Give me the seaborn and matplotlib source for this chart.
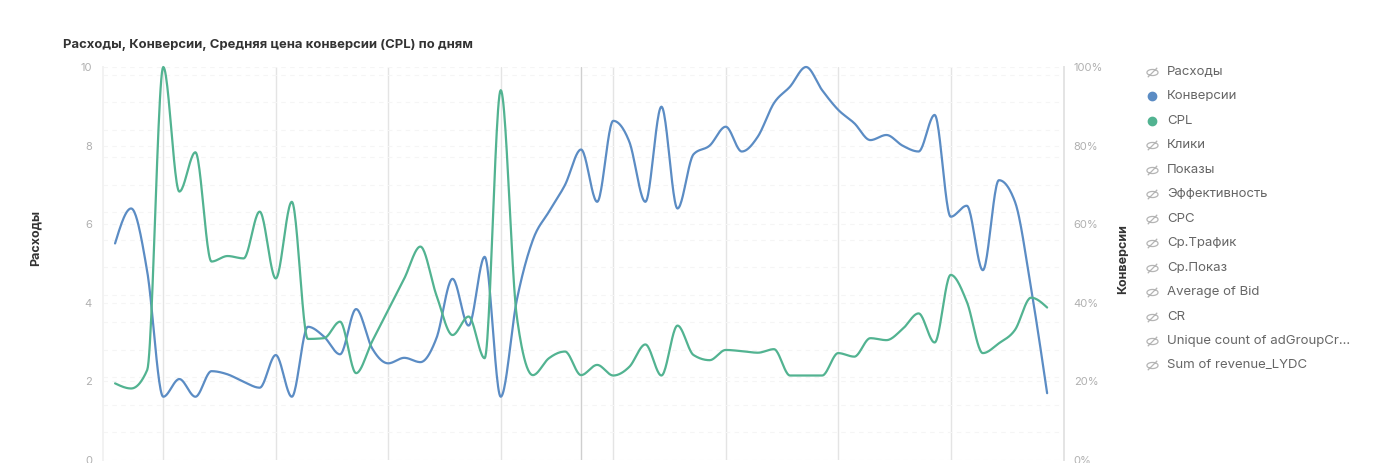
import numpy as np
import pandas as pd
import matplotlib
matplotlib.use("Agg")
import matplotlib.pyplot as plt
import seaborn as sns
from matplotlib.path import Path
from matplotlib.lines import Line2D
from matplotlib.ticker import MultipleLocator, FuncFormatter

# values, one per day
days = list(range(59))
konversii = [5.51, 6.40, 4.80, 1.61, 2.06, 1.61, 2.26, 2.18, 1.99, 1.84,
             2.67, 1.61, 3.39, 3.14, 2.69, 3.84, 2.84, 2.46, 2.60, 2.49,
             3.10, 4.61, 3.42, 5.17, 1.61, 4.07, 5.60, 6.32, 7.00, 7.90,
             6.57, 8.63, 8.10, 6.57, 8.99, 6.40, 7.78, 8.00, 8.48, 7.85,
             8.23, 9.08, 9.50, 10.0, 9.41, 8.91, 8.57, 8.14, 8.27, 8.00,
             7.85, 8.78, 6.19, 6.47, 4.83, 7.12, 6.57, 4.37, 1.70]
cpl = [1.95, 1.82, 2.29, 10.0, 6.83, 7.83, 5.05, 5.19, 5.13, 6.32,
       4.62, 6.57, 3.08, 3.10, 3.52, 2.21, 3.02, 3.82, 4.62, 5.43,
       4.19, 3.18, 3.65, 2.59, 9.41, 3.65, 2.16, 2.59, 2.76, 2.16,
       2.42, 2.15, 2.37, 2.94, 2.15, 3.42, 2.67, 2.54, 2.80, 2.77,
       2.73, 2.82, 2.15, 2.15, 2.15, 2.72, 2.63, 3.10, 3.05, 3.33,
       3.73, 2.99, 4.71, 4.03, 2.72, 2.97, 3.31, 4.13, 3.88]

legend_labels = ["Расходы", "Конверсии", "CPL", "Клики", "Показы",
                 "Эффективность", "CPC", "Ср.Трафик", "Ср.Показ",
                 "Average of Bid", "CR", "Unique count of adGroupCr...",
                 "Sum of revenue_LYDC"]
visible = {"Конверсии": "#5b8cc4", "CPL": "#52b391"}

week_lines = [3, 10, 17, 24, 31, 38, 45, 52]
month_line = 29


def monotone_curve(x, y, steps=24):
    # monotone cubic (Steffen) like the d3 curve used by the dashboard
    x = np.asarray(x, float)
    y = np.asarray(y, float)
    d = np.diff(y) / np.diff(x)
    m = np.zeros_like(y)
    for k in range(1, len(y) - 1):
        s0, s1 = d[k - 1], d[k]
        p = (s0 + s1) / 2
        m[k] = (np.sign(s0) + np.sign(s1)) * min(abs(s0), abs(s1), 0.5 * abs(p))
    m[0] = (3 * d[0] - m[1]) / 2
    m[-1] = (3 * d[-1] - m[-2]) / 2
    xs, ys = [], []
    for k in range(len(y) - 1):
        h = x[k + 1] - x[k]
        t = np.linspace(0, 1, steps, endpoint=False)
        h00 = 2 * t**3 - 3 * t**2 + 1
        h10 = t**3 - 2 * t**2 + t
        h01 = -2 * t**3 + 3 * t**2
        h11 = t**3 - t**2
        xs.append(x[k] + t * h)
        ys.append(h00 * y[k] + h10 * h * m[k] + h01 * y[k + 1] + h11 * h * m[k + 1])
    xs.append([x[-1]])
    ys.append([y[-1]])
    return np.concatenate(xs), np.concatenate(ys)


frames = []
for name, vals in [("Конверсии", konversii), ("CPL", cpl)]:
    xs, ys = monotone_curve(days, vals)
    frames.append(pd.DataFrame({"day": xs, "value": ys, "series": name}))
df = pd.concat(frames, ignore_index=True)

sns.set_theme(style="white")
plt.rcParams["font.family"] = ["Inter", "DejaVu Sans"]

fig = plt.figure(figsize=(14, 4.63), dpi=100)
ax = fig.add_axes([103 / 1400, 3 / 463, 961 / 1400, 393 / 463])

sns.lineplot(data=df, x="day", y="value", hue="series", palette=visible,
             estimator=None, sort=False, linewidth=1.6, legend=False, ax=ax)
for ln in ax.lines:
    ln.set_clip_on(False)

ax.set_xlim(-0.75, 59.05)
ax.set_ylim(0, 10)
ax.set_xticks(week_lines)
ax.set_xticklabels([])
ax.yaxis.set_major_locator(MultipleLocator(2))
ax.yaxis.set_minor_locator(MultipleLocator(0.7))
ax.grid(axis="x", color="#e4e4e4", linewidth=1)
ax.grid(axis="y", which="both", color="#f5f5f5", linewidth=0.8, linestyle=(0, (4, 4)))
ax.axvline(month_line, color="#cfcfcf", linewidth=1, zorder=0)
ax.tick_params(axis="both", which="both", length=0)
ax.tick_params(axis="y", labelsize=8, labelcolor="#b0b0b0", pad=8)
ax.set_xlabel("")
ax.set_ylabel("Расходы", fontsize=9, fontweight="bold", color="#333333")
ax.yaxis.set_label_coords(-0.064, 0.565)

ax2 = ax.twinx()
ax2.set_ylim(0, 100)
ax2.yaxis.set_major_locator(MultipleLocator(20))
ax2.yaxis.set_major_formatter(FuncFormatter(lambda v, _: f"{v:.0f}%"))
ax2.tick_params(axis="y", length=0, labelsize=8, labelcolor="#b0b0b0", pad=7)
ax2.set_ylabel("Конверсии", fontsize=9, fontweight="bold", color="#333333")
ax2.yaxis.set_label_coords(1.055, 0.511)
ax2.grid(False)

for a in (ax, ax2):
    for side in ("top", "bottom"):
        a.spines[side].set_visible(False)
    a.spines["left"].set_color("#f2f2f2")
    a.spines["right"].set_color("#e4e4e4")

fig.text(63 / 1400, 1 - 45 / 463,
         "Расходы, Конверсии, Средняя цена конверсии (CPL) по дням",
         ha="left", va="center", fontsize=9.4, fontweight="bold", color="#333333")

# eye-with-slash icon for hidden series
tt = np.linspace(0, 2 * np.pi, 40)
verts = list(zip(np.cos(tt), 0.55 * np.sin(tt))) + [(-0.85, -0.85), (0.85, 0.85)]
codes = [Path.MOVETO] + [Path.LINETO] * 39 + [Path.MOVETO, Path.LINETO]
eye_off = Path(verts, codes)

for k, label in enumerate(legend_labels):
    y = 1 - (72 + 24.45 * k) / 463
    if label in visible:
        fig.add_artist(Line2D([1152 / 1400], [y], transform=fig.transFigure,
                              marker="o", markersize=6, linestyle="none",
                              color=visible[label]))
    else:
        fig.add_artist(Line2D([1152 / 1400], [y], transform=fig.transFigure,
                              marker=eye_off, markersize=8, linestyle="none",
                              fillstyle="none", markeredgewidth=0.9,
                              markeredgecolor="#b5b5b5"))
    fig.text(1167 / 1400, y, label, ha="left", va="center",
             fontsize=9.5, color="#666666")

fig.savefig("out.png", dpi=100)
